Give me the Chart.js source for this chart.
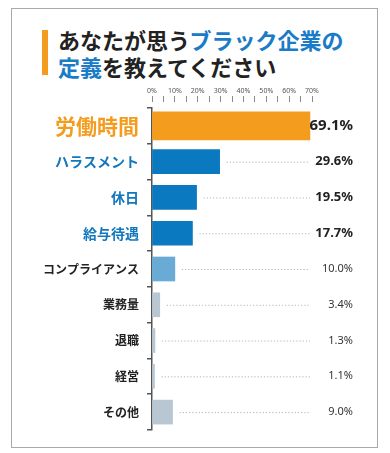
<!DOCTYPE html>
<html lang="ja">
<head>
  <meta charset="UTF-8">
  <title>あなたが思うブラック企業の定義を教えてください</title>
  <script src="https://cdn.jsdelivr.net/npm/chart.js"></script>
  <style>
    body {
      margin: 0;
      width: 390px;
      height: 453px;
      background: #fff;
      font-family: 'Noto Sans CJK JP', 'Noto Sans', sans-serif;
      position: relative;
      overflow: hidden;
    }
    .frame {
      position: absolute;
      left: 11px;
      top: 8px;
      width: 365px;
      height: 438px;
      border: 1.5px solid #a9a9a9;
    }
    .accent {
      position: absolute;
      left: 42px;
      top: 30px;
      width: 6px;
      height: 45px;
      background: #f39c1e;
    }
    .title {
      position: absolute;
      left: 58px;
      top: 26px;
      margin: 0;
      font-size: 22px;
      line-height: 27px;
      font-weight: bold;
      color: #222;
      white-space: nowrap;
    }
    .title .blue { color: #1a7bc6; }
    .chart-box {
      position: absolute;
      left: 0;
      top: 80px;
      width: 390px;
      height: 373px;
    }
  </style>
</head>
<body>
  <div class="frame"></div>
  <div class="accent"></div>
  <h1 class="title">あなたが思う<span class="blue">ブラック企業の</span><br><span class="blue">定義</span>を教えてください</h1>
  <div class="chart-box">
    <canvas id="chart"></canvas>
  </div>

  <script>
    // data
    const categories = ['労働時間', 'ハラスメント', '休日', '給与待遇', 'コンプライアンス', '業務量', '退職', '経営', 'その他'];
    const values = [69.1, 29.6, 19.5, 17.7, 10.0, 3.4, 1.3, 1.1, 9.0];
    const valueLabels = ['69.1%', '29.6%', '19.5%', '17.7%', '10.0%', '3.4%', '1.3%', '1.1%', '9.0%'];
    const axisMax = 70;

    // styles
    const barColors = ['#f39c1e', '#0b79bf', '#0b79bf', '#0b79bf', '#69abd5', '#b9c7d2', '#b9c7d2', '#b9c7d2', '#b9c7d2'];
    const labelColors = ['#f39c1e', '#1277bd', '#1277bd', '#1277bd', '#222', '#222', '#222', '#222', '#222'];
    const labelFonts = i => i === 0 ? { size: 21, weight: 'bold' } : (i < 4 ? { size: 14, weight: 'bold' } : { size: 12, weight: 'bold' });
    const valueFonts = i => i === 0 ? "bold 15px 'Noto Sans', sans-serif" : (i < 4 ? "bold 13px 'Noto Sans', sans-serif" : "11px 'Noto Sans', sans-serif");

    Chart.defaults.font.family = "'Noto Sans CJK JP', 'Noto Sans', sans-serif";

    // dotted leader lines and value labels on the right
    const valuePlugin = {
      id: 'valuePlugin',
      afterDatasetsDraw(chart) {
        const { ctx } = chart;
        const x = chart.scales.x;
        const y = chart.scales.y;
        ctx.save();
        values.forEach((v, i) => {
          const yy = y.getPixelForValue(i);
          const start = x.getPixelForValue(v) + 7;
          const end = x.getPixelForValue(axisMax) - 2;
          if (end - start > 10) {
            ctx.beginPath();
            ctx.setLineDash([1.2, 2]);
            ctx.strokeStyle = '#a7b7c6';
            ctx.lineWidth = 1;
            ctx.moveTo(start, yy + 0.5);
            ctx.lineTo(end, yy + 0.5);
            ctx.stroke();
          }
          ctx.setLineDash([]);
          ctx.font = valueFonts(i);
          ctx.fillStyle = i < 4 ? '#222' : '#333';
          ctx.textAlign = 'right';
          ctx.textBaseline = 'middle';
          ctx.fillText(valueLabels[i], x.right + 41, yy);
        });
        ctx.restore();
      }
    };

    new Chart(document.getElementById('chart'), {
      type: 'bar',
      data: {
        labels: categories,
        datasets: [
          {
            data: values.map((v, i) => i === 0 ? v : null),
            backgroundColor: barColors,
            barThickness: 28,
            grouped: false
          },
          {
            data: values.map((v, i) => i === 0 ? null : v),
            backgroundColor: barColors,
            barThickness: 24,
            grouped: false
          }
        ]
      },
      options: {
        indexAxis: 'y',
        responsive: true,
        maintainAspectRatio: false,
        animation: false,
        layout: { padding: { left: 0, right: 78, top: 0, bottom: 23 } },
        plugins: {
          legend: { display: false },
          tooltip: { enabled: false }
        },
        scales: {
          x: {
            position: 'top',
            min: 0,
            max: axisMax,
            afterFit(scale) { scale.height = 28; },
            border: { display: false },
            grid: {
              drawOnChartArea: false,
              tickLength: 12,
              tickBorderDash: [6, 20],
              color: '#8a8a8a',
              lineWidth: 1
            },
            ticks: {
              stepSize: 5,
              autoSkip: false,
              maxRotation: 0,
              padding: 1,
              color: '#555',
              font: { size: 7, family: "'Noto Sans', sans-serif" },
              callback: v => v % 10 === 0 ? v + '%' : ''
            }
          },
          y: {
            afterFit(scale) { scale.width = 152; },
            border: { color: '#555', width: 1.5 },
            grid: {
              drawOnChartArea: false,
              tickLength: 5,
              color: '#555',
              lineWidth: 1.5
            },
            ticks: {
              padding: 8,
              font: ctx => labelFonts(ctx.index),
              color: ctx => labelColors[ctx.index]
            }
          }
        }
      },
      plugins: [valuePlugin]
    });
  </script>
</body>
</html>
